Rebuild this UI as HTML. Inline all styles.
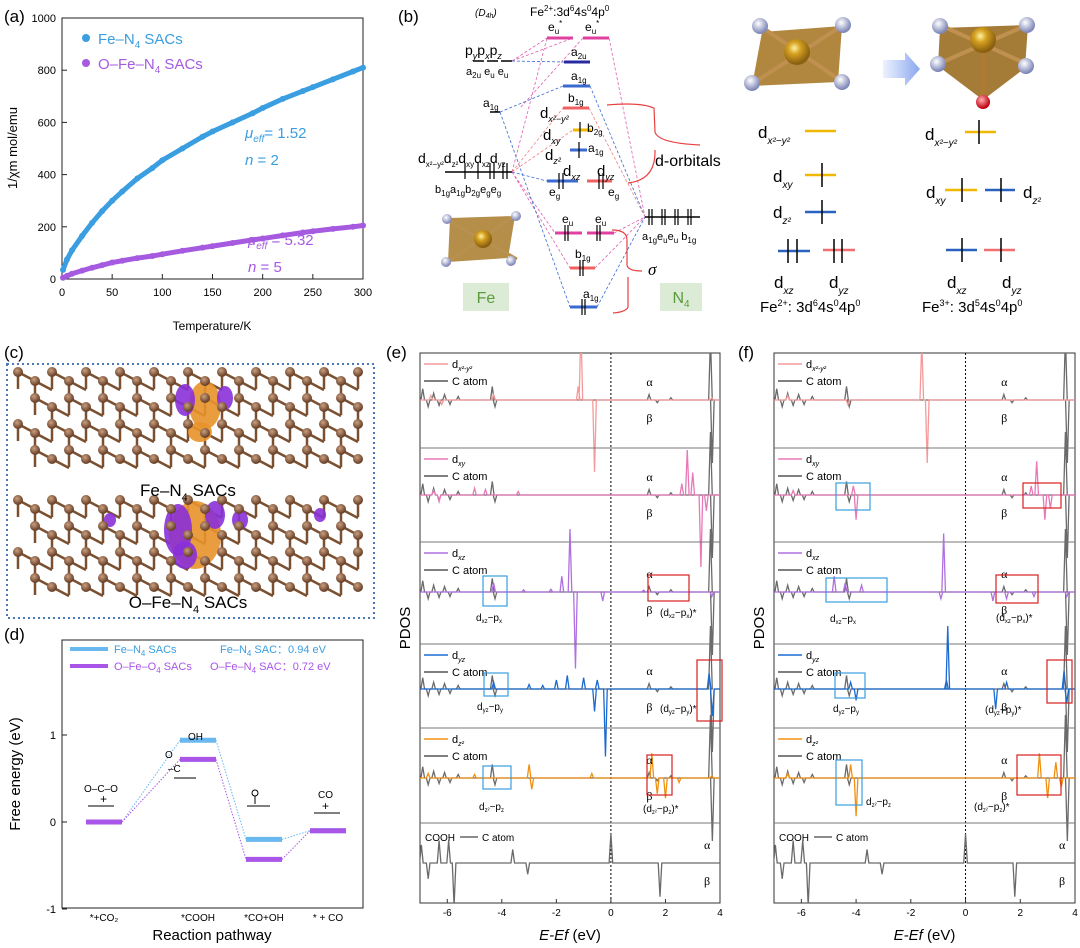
<!DOCTYPE html>
<html><head><meta charset="utf-8">
<style>
html,body{margin:0;padding:0;background:#fff;}
svg{display:block;font-family:"Liberation Sans",sans-serif;}
</style></head>
<body>
<svg id="fig" width="1080" height="948" viewBox="0 0 1080 948" xmlns="http://www.w3.org/2000/svg">
<defs>
<radialGradient id="gold" cx="40%" cy="35%" r="60%"><stop offset="0" stop-color="#fff2a0"/><stop offset="0.4" stop-color="#d4a020"/><stop offset="1" stop-color="#8a6010"/></radialGradient>
<radialGradient id="nball" cx="40%" cy="35%" r="60%"><stop offset="0" stop-color="#ffffff"/><stop offset="1" stop-color="#8088b8"/></radialGradient>
<radialGradient id="rball" cx="40%" cy="35%" r="60%"><stop offset="0" stop-color="#ffb0b0"/><stop offset="1" stop-color="#c00010"/></radialGradient>
<radialGradient id="cball" cx="40%" cy="35%" r="60%"><stop offset="0" stop-color="#c8a080"/><stop offset="1" stop-color="#6a4028"/></radialGradient>
<linearGradient id="arrowg" x1="0" x2="1"><stop offset="0" stop-color="#eef2ff"/><stop offset="1" stop-color="#8aa8ee"/></linearGradient>
</defs>

<!-- ============ PANEL A ============ -->
<g>
<text x="4" y="22" font-size="17">(a)</text>
<rect x="62" y="18" width="301" height="261" fill="none" stroke="#222" stroke-width="1"/>
<g id="aAxes"></g>
<g id="aSeries"></g>
<text transform="translate(17,148) rotate(-90)" text-anchor="middle" font-size="13">1/χm mol/emu</text>
<text x="212" y="330" text-anchor="middle" font-size="12">Temperature/K</text>
<circle cx="86" cy="38" r="4" fill="#3a9ee0"/>
<text x="98" y="44" font-size="15" fill="#3a9ee0">Fe–N<tspan font-size="10" dy="4">4</tspan><tspan dy="-4"> SACs</tspan></text>
<circle cx="86" cy="63" r="4" fill="#a55ae0"/>
<text x="98" y="69" font-size="15" fill="#a55ae0">O–Fe–N<tspan font-size="10" dy="4">4</tspan><tspan dy="-4"> SACs</tspan></text>
<text x="245" y="138" font-size="15" fill="#3a9ee0"><tspan font-style="italic">μ</tspan><tspan font-size="10" dy="4" font-style="italic">eff</tspan><tspan dy="-4">= 1.52</tspan></text>
<text x="245" y="165" font-size="15" fill="#3a9ee0"><tspan font-style="italic">n</tspan> = 2</text>
<text x="248" y="245" font-size="15" fill="#a55ae0"><tspan font-style="italic">μ</tspan><tspan font-size="10" dy="4" font-style="italic">eff</tspan><tspan dy="-4"> = 5.32</tspan></text>
<text x="248" y="272" font-size="15" fill="#a55ae0"><tspan font-style="italic">n</tspan> = 5</text>
</g>

<!-- ============ PANEL B ============ -->
<g font-size="13">
<text x="398" y="22" font-size="17">(b)</text>
<text x="475" y="16" font-size="10" font-style="italic">(D<tspan font-size="7" dy="2">4h</tspan><tspan dy="-2">)</tspan></text>
<text x="530" y="16" font-size="12">Fe<tspan font-size="8" dy="-5">2+</tspan><tspan dy="5">:3d</tspan><tspan font-size="8" dy="-5">6</tspan><tspan dy="5">4s</tspan><tspan font-size="8" dy="-5">0</tspan><tspan dy="5">4p</tspan><tspan font-size="8" dy="-5">0</tspan></text>
<g fill="none" stroke-width="0.8" stroke-dasharray="3,2">
<path d="M512 61 L547 38 M512 61 L573 38 M512 172 L547 38 M512 172 L555 233 M512 172 L570 268" stroke="#e060b0"/>
<path d="M609 38 L645 217 M614 233 L645 217 M595 268 L645 217 M583 38 L520 108" stroke="#e060b0"/>
<path d="M512 61 L564 62 M500 112 L563 86 M500 112 L570 307 M590 86 L645 217 M597 307 L645 217 M512 172 L547 181" stroke="#3a6ad0"/>
<path d="M512 172 L563 108 M589 108 L645 217 M512 172 L573 130" stroke="#f08080"/>
</g>
<g stroke-width="3">
<line x1="547" y1="38" x2="573" y2="38" stroke="#e040a0"/><line x1="583" y1="38" x2="609" y2="38" stroke="#e040a0"/>
<line x1="564" y1="62" x2="590" y2="62" stroke="#2a2aa0"/>
<line x1="563" y1="86" x2="590" y2="86" stroke="#3a6ad0"/>
<line x1="563" y1="108" x2="589" y2="108" stroke="#f06060"/>
<line x1="573" y1="130" x2="591" y2="130" stroke="#f0b800"/>
<line x1="570" y1="150" x2="587" y2="150" stroke="#3a6ad0"/>
<line x1="547" y1="181" x2="578" y2="181" stroke="#3a6ad0"/><line x1="587" y1="181" x2="612" y2="181" stroke="#f06060"/>
<line x1="555" y1="233" x2="582" y2="233" stroke="#e040a0"/><line x1="587" y1="233" x2="614" y2="233" stroke="#e040a0"/>
<line x1="570" y1="268" x2="595" y2="268" stroke="#f06060"/>
<line x1="570" y1="307" x2="597" y2="307" stroke="#3a6ad0"/>
</g>
<g font-size="12">
<text x="548" y="31">e<tspan font-size="8" dy="3">u</tspan><tspan font-size="8" dy="-8">*</tspan></text>
<text x="585" y="31">e<tspan font-size="8" dy="3">u</tspan><tspan font-size="8" dy="-8">*</tspan></text>
<text x="571" y="56">a<tspan font-size="8" dy="3">2u</tspan></text>
<text x="571" y="80">a<tspan font-size="8" dy="3">1g</tspan></text>
<text x="568" y="102">b<tspan font-size="8" dy="3">1g</tspan></text>
<text x="587" y="132">b<tspan font-size="8" dy="3">2g</tspan></text>
<text x="588" y="152">a<tspan font-size="8" dy="3">1g</tspan></text>
<text x="540" y="118" font-size="15">d<tspan font-size="9" dy="4" font-style="italic">x²−y²</tspan></text>
<text x="543" y="140" font-size="15">d<tspan font-size="9" dy="4" font-style="italic">xy</tspan></text>
<text x="545" y="160" font-size="15">d<tspan font-size="9" dy="4" font-style="italic">z²</tspan></text>
<text x="563" y="176" font-size="15">d<tspan font-size="9" dy="4" font-style="italic">xz</tspan></text>
<text x="597" y="176" font-size="15">d<tspan font-size="9" dy="4" font-style="italic">yz</tspan></text>
<text x="549" y="196">e<tspan font-size="8" dy="3">g</tspan></text>
<text x="608" y="196">e<tspan font-size="8" dy="3">g</tspan></text>
<text x="562" y="223">e<tspan font-size="8" dy="3">u</tspan></text>
<text x="595" y="223">e<tspan font-size="8" dy="3">u</tspan></text>
<text x="575" y="258">b<tspan font-size="8" dy="3">1g</tspan></text>
<text x="583" y="298">a<tspan font-size="8" dy="3">1g</tspan></text>
</g>
<g stroke="#000" stroke-width="1.2">
<line x1="580" y1="138" x2="580" y2="122"/><line x1="579" y1="158" x2="579" y2="142"/>
<line x1="559" y1="189" x2="559" y2="173"/><line x1="563" y1="173" x2="563" y2="189"/>
<line x1="599" y1="189" x2="599" y2="173"/><line x1="603" y1="173" x2="603" y2="189"/>
<line x1="565" y1="241" x2="565" y2="225"/><line x1="568" y1="225" x2="568" y2="241"/>
<line x1="597" y1="241" x2="597" y2="225"/><line x1="600" y1="225" x2="600" y2="241"/>
<line x1="580" y1="276" x2="580" y2="260"/><line x1="583" y1="260" x2="583" y2="276"/>
<line x1="582" y1="315" x2="582" y2="299"/><line x1="585" y1="299" x2="585" y2="315"/>
</g>
<g>
<text x="465" y="55" font-size="14">p<tspan font-size="9" dy="4" font-style="italic">y</tspan><tspan dy="-4">p</tspan><tspan font-size="9" dy="4" font-style="italic">x</tspan><tspan dy="-4">p</tspan><tspan font-size="9" dy="4" font-style="italic">z</tspan></text>
<line x1="473" y1="61" x2="484" y2="61" stroke="#000" stroke-width="1.5"/><line x1="487" y1="61" x2="498" y2="61" stroke="#000" stroke-width="1.5"/><line x1="501" y1="61" x2="512" y2="61" stroke="#000" stroke-width="1.5"/>
<text x="466" y="75" font-size="11">a<tspan font-size="8" dy="3">2u</tspan><tspan dy="-3"> e</tspan><tspan font-size="8" dy="3">u</tspan><tspan dy="-3"> e</tspan><tspan font-size="8" dy="3">u</tspan></text>
<text x="483" y="107" font-size="12">a<tspan font-size="8" dy="3">1g</tspan></text>
<line x1="490" y1="112" x2="500" y2="112" stroke="#000" stroke-width="1.5"/>
<text x="418" y="163" font-size="14">d<tspan font-size="8" dy="4">x²−y²</tspan><tspan dy="-4">d</tspan><tspan font-size="8" dy="4">z²</tspan><tspan dy="-4">d</tspan><tspan font-size="8" dy="4">xy</tspan><tspan dy="-4">d</tspan><tspan font-size="8" dy="4">xz</tspan><tspan dy="-4">d</tspan><tspan font-size="8" dy="4">yz</tspan></text>
<line x1="445" y1="172" x2="512" y2="172" stroke="#000" stroke-width="1.5"/>
<g stroke="#000" stroke-width="1.2"><line x1="465" y1="179" x2="465" y2="163"/><line x1="478" y1="179" x2="478" y2="163"/><line x1="490" y1="179" x2="490" y2="163"/><line x1="494" y1="163" x2="494" y2="179"/><line x1="503" y1="179" x2="503" y2="163"/><line x1="507" y1="163" x2="507" y2="179"/></g>
<text x="435" y="193" font-size="11">b<tspan font-size="8" dy="3">1g</tspan><tspan dy="-3">a</tspan><tspan font-size="8" dy="3">1g</tspan><tspan dy="-3">b</tspan><tspan font-size="8" dy="3">2g</tspan><tspan dy="-3">e</tspan><tspan font-size="8" dy="3">g</tspan><tspan dy="-3">e</tspan><tspan font-size="8" dy="3">g</tspan></text>
</g>
<g>
<polygon points="450,218 515,216 508,258 448,262" fill="#a87a2a" opacity="0.85"/>
<line x1="447" y1="220" x2="517" y2="259" stroke="#b89050" stroke-width="3"/><line x1="514" y1="216" x2="448" y2="262" stroke="#b89050" stroke-width="3"/>
<circle cx="483" cy="239" r="9" fill="url(#gold)"/>
<circle cx="447" cy="219" r="5" fill="url(#nball)"/><circle cx="516" cy="216" r="5" fill="url(#nball)"/><circle cx="446" cy="262" r="5" fill="url(#nball)"/><circle cx="511" cy="261" r="5" fill="url(#nball)"/>
</g>
<rect x="463" y="283" width="46" height="28" fill="#dcebd5"/>
<text x="486" y="303" font-size="16" fill="#5a9a3a" text-anchor="middle">Fe</text>
<rect x="660" y="283" width="42" height="28" fill="#dcebd5"/>
<text x="681" y="303" font-size="16" fill="#5a9a3a" text-anchor="middle">N<tspan font-size="10" dy="4">4</tspan></text>
<g>
<line x1="645" y1="217" x2="700" y2="217" stroke="#000" stroke-width="1.5"/>
<g stroke="#000" stroke-width="1.2"><line x1="649" y1="225" x2="649" y2="209"/><line x1="652" y1="209" x2="652" y2="225"/><line x1="662" y1="225" x2="662" y2="209"/><line x1="665" y1="209" x2="665" y2="225"/><line x1="675" y1="225" x2="675" y2="209"/><line x1="678" y1="209" x2="678" y2="225"/><line x1="688" y1="225" x2="688" y2="209"/><line x1="691" y1="209" x2="691" y2="225"/></g>
<text x="642" y="240" font-size="11">a<tspan font-size="8" dy="3">1g</tspan><tspan dy="-3">e</tspan><tspan font-size="8" dy="3">u</tspan><tspan dy="-3">e</tspan><tspan font-size="8" dy="3">u</tspan><tspan dy="-3"> b</tspan><tspan font-size="8" dy="3">1g</tspan></text>
</g>
<path d="M607 105 Q640 102 654 108 L655 132 Q658 143 700 145 M655 150 Q656 180 628 183" fill="none" stroke="#e84040" stroke-width="1.2"/>
<text x="655" y="166" font-size="16">d-orbitals</text>
<path d="M612 230 Q627 230 627 240 L627 265 Q628 271 642 271 M628 277 L628 307 Q626 312 613 313" fill="none" stroke="#e84040" stroke-width="1.2"/>
<text x="648" y="275" font-size="17" font-style="italic" font-family="Liberation Serif,serif">σ</text>

<g>
<polygon points="762,32 842,26 838,82 752,86" fill="#a87a2a" opacity="0.9"/>
<line x1="760" y1="26" x2="843" y2="82" stroke="#c09050" stroke-width="4"/><line x1="843" y1="25" x2="755" y2="82" stroke="#c09050" stroke-width="4"/>
<circle cx="797" cy="52" r="13" fill="url(#gold)"/>
<circle cx="760" cy="26" r="8" fill="url(#nball)"/><circle cx="843" cy="25" r="8" fill="url(#nball)"/><circle cx="752" cy="83" r="8" fill="url(#nball)"/><circle cx="842" cy="82" r="8" fill="url(#nball)"/>
</g>
<polygon points="883,60 905,60 905,52 920,69 905,86 905,78 883,78" fill="url(#arrowg)"/>
<g>
<polygon points="940,28 1028,25 1025,68 983,100 938,66" fill="#9a6e22" opacity="0.9"/>
<line x1="940" y1="25" x2="1027" y2="64" stroke="#c09050" stroke-width="4"/><line x1="1027" y1="25" x2="938" y2="64" stroke="#c09050" stroke-width="4"/><line x1="983" y1="40" x2="983" y2="100" stroke="#b07a30" stroke-width="4"/>
<circle cx="983" cy="40" r="13" fill="url(#gold)"/>
<circle cx="940" cy="26" r="8" fill="url(#nball)"/><circle cx="1027" cy="25" r="8" fill="url(#nball)"/><circle cx="938" cy="64" r="8" fill="url(#nball)"/><circle cx="1026" cy="66" r="8" fill="url(#nball)"/>
<circle cx="983" cy="102" r="7" fill="url(#rball)"/>
</g>
<g font-size="17">
<text x="758" y="138">d<tspan font-size="10" dy="6" font-style="italic">x²−y²</tspan></text>
<line x1="805" y1="131" x2="836" y2="131" stroke="#f0b800" stroke-width="2.5"/>
<text x="773" y="182">d<tspan font-size="10" dy="6" font-style="italic">xy</tspan></text>
<line x1="805" y1="175" x2="836" y2="175" stroke="#f0b800" stroke-width="2.5"/>
<text x="773" y="218">d<tspan font-size="10" dy="6" font-style="italic">z²</tspan></text>
<line x1="805" y1="212" x2="836" y2="212" stroke="#2a62c0" stroke-width="2.5"/>
<line x1="778" y1="251" x2="810" y2="251" stroke="#2a62c0" stroke-width="2.5"/>
<line x1="823" y1="250" x2="855" y2="250" stroke="#f07070" stroke-width="2.5"/>
<g stroke="#000" stroke-width="1.5"><line x1="822" y1="187" x2="822" y2="163"/><line x1="822" y1="224" x2="822" y2="200"/><line x1="788" y1="263" x2="788" y2="239"/><line x1="797" y1="239" x2="797" y2="263"/><line x1="834" y1="263" x2="834" y2="239"/><line x1="842" y1="239" x2="842" y2="263"/></g>
<text x="774" y="288">d<tspan font-size="10" dy="6" font-style="italic">xz</tspan></text>
<text x="829" y="288">d<tspan font-size="10" dy="6" font-style="italic">yz</tspan></text>
<text x="760" y="312" font-size="15">Fe<tspan font-size="9" dy="-6">2+</tspan><tspan dy="6">: 3d</tspan><tspan font-size="9" dy="-6">6</tspan><tspan dy="6">4s</tspan><tspan font-size="9" dy="-6">0</tspan><tspan dy="6">4p</tspan><tspan font-size="9" dy="-6">0</tspan></text>
</g>
<g font-size="17">
<text x="925" y="140">d<tspan font-size="10" dy="6" font-style="italic">x²−y²</tspan></text>
<line x1="965" y1="132" x2="996" y2="132" stroke="#f0b800" stroke-width="2.5"/>
<text x="926" y="198">d<tspan font-size="10" dy="6" font-style="italic">xy</tspan></text>
<line x1="945" y1="190" x2="977" y2="190" stroke="#f0b800" stroke-width="2.5"/>
<line x1="985" y1="190" x2="1015" y2="190" stroke="#2a62c0" stroke-width="2.5"/>
<text x="1023" y="198">d<tspan font-size="10" dy="6" font-style="italic">z²</tspan></text>
<line x1="946" y1="250" x2="977" y2="250" stroke="#2a62c0" stroke-width="2.5"/>
<line x1="984" y1="250" x2="1015" y2="250" stroke="#f07070" stroke-width="2.5"/>
<g stroke="#000" stroke-width="1.5"><line x1="979" y1="144" x2="979" y2="120"/><line x1="962" y1="202" x2="962" y2="178"/><line x1="1001" y1="202" x2="1001" y2="178"/><line x1="962" y1="262" x2="962" y2="238"/><line x1="1001" y1="262" x2="1001" y2="238"/></g>
<text x="947" y="288">d<tspan font-size="10" dy="6" font-style="italic">xz</tspan></text>
<text x="1002" y="288">d<tspan font-size="10" dy="6" font-style="italic">yz</tspan></text>
<text x="922" y="312" font-size="15">Fe<tspan font-size="9" dy="-6">3+</tspan><tspan dy="6">: 3d</tspan><tspan font-size="9" dy="-6">5</tspan><tspan dy="6">4s</tspan><tspan font-size="9" dy="-6">0</tspan><tspan dy="6">4p</tspan><tspan font-size="9" dy="-6">0</tspan></text>
</g>
</g>

<!-- ============ PANEL C ============ -->
<g>
<text x="4" y="358" font-size="17">(c)</text>
<rect x="7" y="364" width="367" height="254" fill="none" stroke="#4a78b8" stroke-width="2" stroke-dasharray="2,3"/>
<g id="lattice1"></g>
<g id="lattice2"></g>
<text x="188" y="496" font-size="17" text-anchor="middle">Fe–N<tspan font-size="11" dy="5">4</tspan><tspan dy="-5"> SACs</tspan></text>
<text x="188" y="608" font-size="17" text-anchor="middle">O–Fe–N<tspan font-size="11" dy="5">4</tspan><tspan dy="-5"> SACs</tspan></text>
</g>

<!-- ============ PANEL D ============ -->
<g>
<text x="4" y="640" font-size="17">(d)</text>
<rect x="62" y="640" width="301" height="268" fill="none" stroke="#222"/>
<g id="dAxes"></g>
<g id="dSeries"></g>
<text transform="translate(20,774) rotate(-90)" text-anchor="middle" font-size="15">Free energy (eV)</text>
<text x="212" y="940" text-anchor="middle" font-size="15">Reaction pathway</text>
<line x1="70" y1="649" x2="108" y2="649" stroke="#6ab8f0" stroke-width="4"/>
<text x="114" y="653" font-size="11" fill="#3a9ee0">Fe–N<tspan font-size="8" dy="3">4</tspan><tspan dy="-3"> SACs</tspan></text>
<line x1="70" y1="666" x2="108" y2="666" stroke="#a855e8" stroke-width="4"/>
<text x="114" y="670" font-size="11" fill="#a855e8">O–Fe–O<tspan font-size="8" dy="3">4</tspan><tspan dy="-3"> SACs</tspan></text>
<text x="220" y="653" font-size="11" fill="#3a9ee0">Fe–N<tspan font-size="8" dy="3">4</tspan><tspan dy="-3"> SAC：0.94 eV</tspan></text>
<text x="210" y="670" font-size="11" fill="#a855e8">O–Fe–N<tspan font-size="8" dy="3">4</tspan><tspan dy="-3"> SAC：0.72 eV</tspan></text>
<g font-size="10">
<text x="84" y="792">O–C–O</text><text x="100" y="803" font-size="12">+</text>
<line x1="88" y1="806" x2="114" y2="806" stroke="#000"/>
<text x="165" y="758">O</text><text x="188" y="740">OH</text><text x="168" y="772">–C</text>
<line x1="174" y1="778" x2="196" y2="778" stroke="#000"/>
<circle cx="255" cy="793" r="3" fill="none" stroke="#000"/><line x1="255" y1="796" x2="255" y2="804" stroke="#000"/>
<line x1="247" y1="806" x2="270" y2="806" stroke="#000"/>
<text x="318" y="798">CO</text><text x="322" y="810" font-size="12">+</text>
<line x1="314" y1="813" x2="340" y2="813" stroke="#000"/>
</g>
</g>

<!-- ============ PANELS E & F ============ -->
<text x="386" y="358" font-size="17">(e)</text>
<text x="738" y="358" font-size="17">(f)</text>
<g id="pdosE"></g>
<g id="pdosF"></g>
</svg>

<script>
const NS = "http://www.w3.org/2000/svg";
// ---------- Panel A data ----------
const aTemps = [1, 5, 10, 20, 30, 40, 50, 60, 75, 90, 100, 120, 140, 150, 170, 190, 200, 220, 240, 250, 270, 290, 300];
const aFeN4 = [35, 75, 110, 165, 215, 260, 300, 335, 385, 425, 455, 500, 545, 565, 600, 635, 655, 690, 720, 735, 765, 795, 810];
const aOFeN4 = [5, 12, 20, 32, 43, 53, 63, 70, 80, 88, 95, 108, 120, 126, 138, 150, 155, 167, 178, 183, 192, 200, 205];
const aXTicks = [0, 50, 100, 150, 200, 250, 300];
const aYTicks = [0, 200, 400, 600, 800, 1000];
// ---------- Panel D data ----------
const dSteps = ["*+CO₂", "*COOH", "*CO+OH", "* + CO"];
const dFeN4 = [0, 0.94, -0.20, -0.10];
const dOFeN4 = [0, 0.72, -0.43, -0.10];
const dYTicks = [-1, 0, 1];
// ---------- PDOS data: spikes as [energy, amplitude] (alpha>0, beta<0) ----------
const pdosXTicks = [-6, -4, -2, 0, 2, 4];
const cAtomSpikes = [[-6.9,0.25],[-6.7,-0.15],[-6.5,0.15],[-6.3,-0.12],[-6.1,0.12],[-5.9,-0.1],[-5.6,0.08],[-4.35,0.3],[-4.25,-0.15],[1.4,0.12],[1.7,-0.06],[2.2,0.05],[3.65,1.4],[3.72,-1.4]];
const eOrbSpikes = [
  [[-1.1,1.6],[-1.2,0.3],[-0.6,-1.6],[-6.6,0.1],[-6.2,-0.1],[-4.3,0.12],[3.7,0.05]],
  [[2.6,0.25],[2.8,1.0],[3.0,0.5],[3.3,-1.6],[3.5,-0.35],[-6.5,0.1],[-6.3,-0.15],[-5.0,0.15],[-4.6,0.12],[-3.4,0.08]],
  [[-1.5,1.4],[-1.8,0.35],[-1.3,-1.7],[-0.3,-0.2],[-4.3,0.2],[-3.2,0.05],[-2.2,0.06],[1.2,0.04],[3.7,-0.1]],
  [[-3.0,0.1],[-2.5,0.08],[-2.0,0.2],[-1.6,0.3],[-1.0,0.25],[-0.5,0.2],[-0.2,-1.5],[-0.6,-0.5],[-4.3,0.15],[3.6,0.35],[3.72,-0.6]],
  [[-6.7,0.1],[-5.0,0.08],[-3.0,0.3],[-2.9,-0.25],[-0.7,0.1],[1.5,0.55],[1.7,-0.35],[2.0,-0.45],[2.5,-0.1],[3.7,0.05]]
];
const fOrbSpikes = [
  [[-1.6,1.3],[-1.4,-1.4],[-6.5,0.1],[-4.3,-0.1]],
  [[2.4,0.2],[2.6,0.75],[2.9,-0.55],[3.1,-0.3],[-4.1,0.2],[-4.0,-0.55],[-6.3,0.1]],
  [[-4.8,0.35],[-4.4,0.2],[-3.8,0.15],[-0.8,1.3],[-0.9,-0.15],[1.0,-0.2],[1.5,-0.15],[2.5,-0.1],[3.7,-0.1]],
  [[-0.65,1.4],[-0.7,0.2],[-4.2,0.15],[-4.0,-0.25],[1.1,-0.45],[1.5,0.15],[3.6,0.4],[3.7,-0.3]],
  [[-4.0,-0.85],[-4.2,0.3],[-6.5,0.1],[2.7,0.55],[3.0,-0.45],[3.3,0.35],[3.5,-0.2]]
];
const coohSpikes = [[-6.95,0.4],[-6.7,-0.35],[-6.3,0.5],[-5.95,0.5],[-5.75,-0.95],[-3.6,0.3],[-3.05,-0.25],[0,0.65],[1.8,-0.75]];
const eOrbNames = ["x²-y²","xy","xz","yz","z²"];
const orbColors = ["#f49a9a","#e878b8","#b070e0","#1a6ad0","#f09010"];

function mk(tag, attrs, parent) {
  const el = document.createElementNS(NS, tag);
  for (const k in attrs) el.setAttribute(k, attrs[k]);
  if (parent) parent.appendChild(el);
  return el;
}

// ---------- Panel A drawing ----------
(function(){
  const ax = document.getElementById("aAxes"), se = document.getElementById("aSeries");
  const x = t => 62 + t / 300 * 301;
  const y = v => 279 - v / 1000 * 261;
  aXTicks.forEach(t => {
    const l = mk("line", {x1:x(t), x2:x(t), y1:279, y2:274, stroke:"#222"}, ax);
    
    
    const tx = mk("text", {x:x(t), y:296, "font-size":11, "text-anchor":"middle"}, ax);
    tx.textContent = t;
    
    
  });
  aYTicks.forEach(v => {
    const l = mk("line", {x1:62, x2:67, y1:y(v), y2:y(v), stroke:"#222"}, ax);
    
    
    const tx = mk("text", {x:56, y:y(v)+4, "font-size":11, "text-anchor":"end"}, ax);
    tx.textContent = v;
    
    
  });
  [[aFeN4,"#3a9ee0","fe-n4-series"],[aOFeN4,"#a55ae0","o-fe-n4-series"]].forEach(([arr,c,n]) => {
    const pts = aTemps.map((t,i) => x(t)+","+y(arr[i])).join(" ");
    const pl = mk("polyline", {points:pts, fill:"none", stroke:c, "stroke-width":5, "stroke-linejoin":"round", "stroke-linecap":"round"}, se);
    
    
    aTemps.forEach((t,i) => {
      const p = mk("circle", {cx:x(t), cy:y(arr[i]), r:3, fill:c}, se);
      
      
    });
  });
})();

// ---------- Panel D drawing ----------
(function(){
  const ax = document.getElementById("dAxes"), se = document.getElementById("dSeries");
  const cx = [104, 198, 264, 328];
  const y = v => 822 - v * 87;
  dYTicks.forEach(v => {
    const l = mk("line", {x1:62, x2:67, y1:y(v), y2:y(v), stroke:"#222"}, ax);
    
    
    const tx = mk("text", {x:56, y:y(v)+4, "font-size":11, "text-anchor":"end"}, ax);
    tx.textContent = v;
    
    
  });
  dSteps.forEach((s,i) => {
    const tx = mk("text", {x:cx[i], y:921, "font-size":10, "text-anchor":"middle"}, ax);
    tx.textContent = s;
    
    
  });
  [[dFeN4,"#6ab8f0","fe-n4-level"],[dOFeN4,"#a855e8","o-fe-n4-level"]].forEach(([arr,c,n]) => {
    arr.forEach((v,i) => {
      if (i < arr.length - 1) {
        const dl = mk("line", {x1:cx[i]+18, y1:y(v), x2:cx[i+1]-18, y2:y(arr[i+1]), stroke:c, "stroke-width":1, "stroke-dasharray":"1.5,1.5"}, se);
        
        
      }
    });
    arr.forEach((v,i) => {
      const b = mk("line", {x1:cx[i]-18, x2:cx[i]+18, y1:y(v), y2:y(v), stroke:c, "stroke-width":5}, se);
      
      
    });
  });
})();

// ---------- Panel C lattices ----------
function lattice(g, ytop, rows, blobs) {
  const atoms = [];
  for (let r = 0; r < rows; r++) {
    for (let c = 0; c < 11; c++) {
      const x0 = 18 + c * 34 + (r % 2) * 17;
      const y0 = ytop + r * 26;
      atoms.push([x0, y0], [x0 + 17, y0 + 9]);
    }
  }
  const ok = ([x0]) => x0 <= 362 && x0 >= 14;
  atoms.forEach(([x0,y0]) => {
    if (!ok([x0])) return;
    if (x0 + 17 <= 366) mk("line", {x1:x0, y1:y0, x2:x0+17, y2:y0+9, stroke:"#7a5030", "stroke-width":2.5}, g);
    if (y0 + 17 < ytop + rows * 26) mk("line", {x1:x0, y1:y0, x2:x0, y2:y0+17, stroke:"#7a5030", "stroke-width":2.5}, g);
  });
  blobs.forEach(([bx,by,rx,ry,col]) => mk("ellipse", {cx:bx, cy:by, rx:rx, ry:ry, fill:col, opacity:0.9}, g));
  atoms.forEach(a => { if (ok(a)) mk("circle", {cx:a[0], cy:a[1], r:5, fill:"url(#cball)"}, g); });
}
lattice(document.getElementById("lattice1"), 372, 4, [[205,405,16,24,"#e8922a"],[185,400,10,16,"#8a30d8"],[225,398,8,12,"#8a30d8"],[200,432,12,10,"#e8922a"]]);
lattice(document.getElementById("lattice2"), 500, 4, [[195,535,26,34,"#e8922a"],[178,530,14,26,"#8a30d8"],[215,515,10,14,"#8a30d8"],[185,555,12,14,"#8a30d8"],[240,520,8,10,"#8a30d8"],[110,520,6,7,"#8a30d8"],[320,515,6,7,"#8a30d8"]]);

// ---------- PDOS drawing ----------
function drawPDOS(gid, x0, x1, orbSpikes, idp) {
  const g = document.getElementById(gid);
  const tops = [353, 448, 542, 644, 728, 823];
  const bases = [400, 495, 592, 689, 778, 863];
  const ex = e => x0 + (e + 7) / 11 * (x1 - x0);
  const amp = 45;
  const cpid = "clip" + gid;
  const cp = mk("clipPath", {id:cpid}, g);
  mk("rect", {x:x0, y:353, width:x1-x0, height:550}, cp);
  mk("rect", {x:x0, y:353, width:x1-x0, height:550, fill:"none", stroke:"#333"}, g);
  const zero = mk("line", {x1:ex(0), x2:ex(0), y1:353, y2:903, stroke:"#000", "stroke-dasharray":"2,2"}, g);
  
  
  function spikePath(spikes, base) {
    const s = spikes.slice().sort((a,b)=>a[0]-b[0]);
    let d = "M" + x0 + "," + base;
    s.forEach(([e,a]) => { d += " L" + (ex(e)-1.8) + "," + base + " L" + ex(e) + "," + (base - a*amp) + " L" + (ex(e)+1.8) + "," + base; });
    d += " L" + x1 + "," + base;
    return d;
  }
  for (let i = 0; i < 6; i++) {
    if (i > 0) mk("line", {x1:x0, x2:x1, y1:tops[i], y2:tops[i], stroke:"#777"}, g);
    const sub = mk("g", {"clip-path":"url(#"+cpid+")"}, g);
    
    
    const grey = mk("path", {d:spikePath(i < 5 ? cAtomSpikes : coohSpikes, bases[i]), fill:"none", stroke:"#6a6a6a", "stroke-width":1.3}, sub);
    
    
    if (i < 5) {
      const o = mk("path", {d:spikePath(orbSpikes[i], bases[i]), fill:"none", stroke:orbColors[i], "stroke-width":1.3}, sub);
      
      
      mk("line", {x1:x0+4, x2:x0+28, y1:tops[i]+11, y2:tops[i]+11, stroke:orbColors[i], "stroke-width":1.5}, g);
      const t1 = mk("text", {x:x0+32, y:tops[i]+15, "font-size":11}, g);
      t1.innerHTML = 'd<tspan font-size="7" dy="3" font-style="italic">' + eOrbNames[i] + '</tspan>';
      
      
      mk("line", {x1:x0+4, x2:x0+28, y1:tops[i]+28, y2:tops[i]+28, stroke:"#555", "stroke-width":1.5}, g);
      const t2 = mk("text", {x:x0+32, y:tops[i]+32, "font-size":11}, g);
      t2.textContent = "C atom";
      
      
    } else {
      const t = mk("text", {x:x0+5, y:tops[i]+18, "font-size":10}, g);
      t.textContent = "COOH";
      mk("line", {x1:x0+40, x2:x0+58, y1:tops[i]+14, y2:tops[i]+14, stroke:"#666", "stroke-width":1.5}, g);
      const t2 = mk("text", {x:x0+62, y:tops[i]+18, "font-size":10}, g);
      t2.textContent = "C atom";
    }
    const ax = i < 5 ? ex(1.3) : x1 - 16;
    const a = mk("text", {x:ax, y:bases[i]-14, "font-size":12, "font-family":"Liberation Serif,serif"}, g);
    a.textContent = "α";
    const b = mk("text", {x:ax, y:bases[i]+22, "font-size":12, "font-family":"Liberation Serif,serif"}, g);
    b.textContent = "β";
  }
  pdosXTicks.forEach(t => {
    mk("line", {x1:ex(t), x2:ex(t), y1:903, y2:899, stroke:"#333"}, g);
    const tx = mk("text", {x:ex(t), y:916, "font-size":10, "text-anchor":"middle"}, g);
    tx.textContent = t;
    
    
  });
  const xt = mk("text", {x:ex(-1.5), y:940, "font-size":15, "text-anchor":"middle"}, g);
  xt.innerHTML = '<tspan font-style="italic">E-Ef</tspan> (eV)';
  
  
  const yt = mk("text", {transform:"translate("+(x0-10)+",628) rotate(-90)", "font-size":15, "text-anchor":"middle"}, g);
  yt.textContent = "PDOS";
  
  
  return ex;
}
const exE = drawPDOS("pdosE", 420, 720, eOrbSpikes, "e");
const exF = drawPDOS("pdosF", 774, 1075, fOrbSpikes, "f");

function box(gid, e0, e1, y0, y1, col, name) {
  const r = mk("rect", {x:e0, y:y0, width:e1-e0, height:y1-y0, fill:"none", stroke:col, "stroke-width":1.2}, document.getElementById(gid));
  
  
}
function lbl(gid, x, y, html) {
  const t = mk("text", {x:x, y:y, "font-size":10}, document.getElementById(gid));
  t.innerHTML = html;
}
box("pdosE", 483, 507, 576, 606, "#3a9ee0", "e-dxz-box"); lbl("pdosE", 476, 621, "d<tspan font-size='6' dy='2'>xz</tspan><tspan dy='-2'>−p</tspan><tspan font-size='6' dy='2'>x</tspan>");
box("pdosE", 648, 689, 575, 601, "#d82020", "e-dxz-star-box"); lbl("pdosE", 660, 616, "(d<tspan font-size='6' dy='2'>xz</tspan><tspan dy='-2'>−p</tspan><tspan font-size='6' dy='2'>x</tspan><tspan dy='-2'>)*</tspan>");
box("pdosE", 484, 508, 673, 696, "#3a9ee0", "e-dyz-box"); lbl("pdosE", 477, 710, "d<tspan font-size='6' dy='2'>yz</tspan><tspan dy='-2'>−p</tspan><tspan font-size='6' dy='2'>y</tspan>");
box("pdosE", 697, 722, 660, 721, "#d82020", "e-dyz-star-box"); lbl("pdosE", 660, 712, "(d<tspan font-size='6' dy='2'>yz</tspan><tspan dy='-2'>−p</tspan><tspan font-size='6' dy='2'>y</tspan><tspan dy='-2'>)*</tspan>");
box("pdosE", 483, 511, 766, 789, "#3a9ee0", "e-dz2-box"); lbl("pdosE", 479, 810, "d<tspan font-size='6' dy='2'>z²</tspan><tspan dy='-2'>−p</tspan><tspan font-size='6' dy='2'>z</tspan>");
box("pdosE", 647, 672, 755, 795, "#d82020", "e-dz2-star-box"); lbl("pdosE", 643, 812, "(d<tspan font-size='6' dy='2'>z²</tspan><tspan dy='-2'>−p</tspan><tspan font-size='6' dy='2'>z</tspan><tspan dy='-2'>)*</tspan>");
box("pdosF", 836, 870, 483, 510, "#3a9ee0", "f-dxy-box");
box("pdosF", 1023, 1061, 483, 508, "#d82020", "f-dxy-star-box");
box("pdosF", 826, 887, 578, 602, "#3a9ee0", "f-dxz-box"); lbl("pdosF", 830, 622, "d<tspan font-size='6' dy='2'>xz</tspan><tspan dy='-2'>−p</tspan><tspan font-size='6' dy='2'>x</tspan>");
box("pdosF", 996, 1038, 575, 603, "#d82020", "f-dxz-star-box"); lbl("pdosF", 996, 621, "(d<tspan font-size='6' dy='2'>xz</tspan><tspan dy='-2'>−p</tspan><tspan font-size='6' dy='2'>x</tspan><tspan dy='-2'>)*</tspan>");
box("pdosF", 835, 865, 673, 698, "#3a9ee0", "f-dyz-box"); lbl("pdosF", 833, 712, "d<tspan font-size='6' dy='2'>yz</tspan><tspan dy='-2'>−p</tspan><tspan font-size='6' dy='2'>y</tspan>");
box("pdosF", 1047, 1072, 660, 703, "#d82020", "f-dyz-star-box"); lbl("pdosF", 985, 713, "(d<tspan font-size='6' dy='2'>yz</tspan><tspan dy='-2'>−p</tspan><tspan font-size='6' dy='2'>y</tspan><tspan dy='-2'>)*</tspan>");
box("pdosF", 836, 862, 760, 805, "#3a9ee0", "f-dz2-box"); lbl("pdosF", 866, 805, "d<tspan font-size='6' dy='2'>z²</tspan><tspan dy='-2'>−p</tspan><tspan font-size='6' dy='2'>z</tspan>");
box("pdosF", 1017, 1061, 755, 795, "#d82020", "f-dz2-star-box"); lbl("pdosF", 974, 810, "(d<tspan font-size='6' dy='2'>z²</tspan><tspan dy='-2'>−p</tspan><tspan font-size='6' dy='2'>z</tspan><tspan dy='-2'>)*</tspan>");
</script>
</body></html>
